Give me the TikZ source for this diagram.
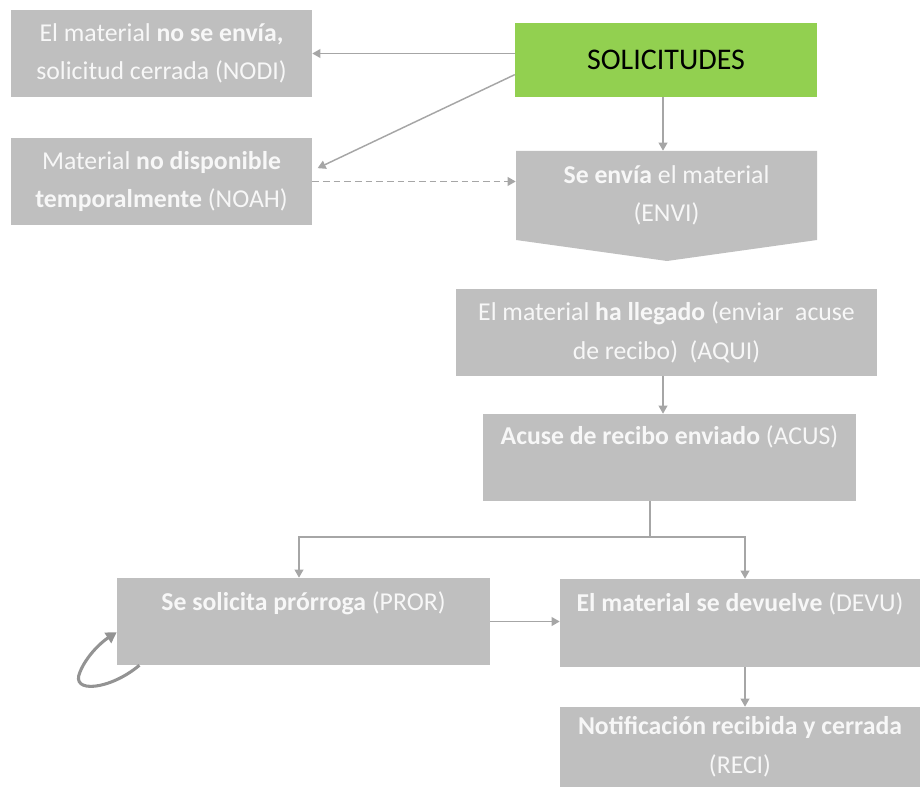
\documentclass[tikz,border=0pt]{standalone}
\usepackage{fontspec}
\setmainfont{Carlito}
\usetikzlibrary{arrows.meta}
\definecolor{boxgray}{HTML}{BFBFBF}
\definecolor{linegray}{HTML}{A6A6A6}
\definecolor{solgreen}{HTML}{92D050}
\definecolor{txtwhite}{HTML}{F7F7F7}
\newcommand\pxu{0.75pt}
\tikzset{
  x=0.75pt, y=-0.75pt,
  box/.style={fill=boxgray, inner sep=0pt, text=txtwhite, align=center,
    font=\fontsize{19.3}{29}\selectfont},
  txt/.style={inner sep=0pt, text=txtwhite, align=center,
    font=\fontsize{19.3}{29}\selectfont},
  conn/.style={draw=linegray, line width=1.1pt, -{Triangle[width=6.5pt,length=6pt]}},
}
\begin{document}
\begin{tikzpicture}
\useasboundingbox (0,0) rectangle (920,787);
% boxes
\node[box, minimum width=301*\pxu, minimum height=87*\pxu] (nodi) at (161.5,53.5)
  {El material \textbf{no se envía,}\\ solicitud cerrada (NODI)};
\node[box, minimum width=301*\pxu, minimum height=87*\pxu] (noah) at (161.5,181.5)
  {Material \textbf{no disponible}\\ \textbf{temporalmente} (NOAH)};
\node[fill=solgreen, inner sep=0pt, minimum width=302*\pxu, minimum height=74*\pxu,
  font=\fontsize{22.5}{26}\selectfont] (sol) at (666,60) {SOLICITUDES};
% ENVI pentagon
\fill[boxgray] (516,151) -- (817,151) -- (817,240) -- (667,261) -- (516,240) -- cycle;
\node[txt, minimum width=301*\pxu, minimum height=89*\pxu] (envi) at (666.5,195.5)
  {\textbf{Se envía} el material\\ (ENVI)};
\node[box, minimum width=421*\pxu, minimum height=87*\pxu] (aqui) at (666.5,332.5)
  {El material \textbf{ha llegado} (enviar\ \ acuse\\ de recibo)\ \ (AQUI)};
\node[box, minimum width=373*\pxu, minimum height=87*\pxu] (acus) at (669.5,457.5) {};
\node[txt] (acust) at ([yshift=-17pt]acus.north) {\textbf{Acuse de recibo enviado} (ACUS)};
\node[box, minimum width=373*\pxu, minimum height=87*\pxu] (pror) at (303.5,621.5) {};
\node[txt] (prort) at ([yshift=-19pt]pror.north) {\textbf{Se solicita prórroga} (PROR)};
\node[box, minimum width=360*\pxu, minimum height=88*\pxu] (devu) at (740,623) {};
\node[txt] (devut) at ([yshift=-18.5pt]devu.north) {\textbf{El material se devuelve} (DEVU)};
\node[box, minimum width=360*\pxu, minimum height=80*\pxu] (reci) at (740,747)
  {\textbf{Notificación recibida y cerrada}\\ (RECI)};
% connectors
\draw[conn] (sol.west |- nodi.east) -- (nodi.east);
\draw[conn] ([yshift=-11pt]sol.west) -- ([xshift=4pt,yshift=10pt]noah.east);
\draw[conn, dashed, dash pattern=on 5pt off 3pt] (noah.east) -- (noah.east -| envi.west);
\draw[conn] (sol.south -| 663,0) -- (envi.north -| 663,0);
\draw[conn] (aqui.south -| 663,0) -- (acus.north -| 663,0);
\coordinate (split) at (650,537);
\draw[draw=linegray, line width=1.1pt] (acus.south -| split) -- (split);
\draw[conn] (split) -| (pror.north -| 299,0);
\draw[conn] (split) -| (devu.north -| 745,0);
\draw[conn] (pror.east) -- (pror.east -| devu.west);
\draw[conn] (devu.south -| 745,0) -- (reci.north -| 745,0);
% self loop
\draw[draw=gray!85, line width=2.3pt, -{Triangle[width=9pt,length=8pt]}]
  ([xshift=17pt]pror.south west) .. controls (110,690) and (70,694) .. (80,672)
  .. controls (86,657) and (100,643) .. ([yshift=-8pt]pror.west -| pror.south west);
\end{tikzpicture}
\end{document}
